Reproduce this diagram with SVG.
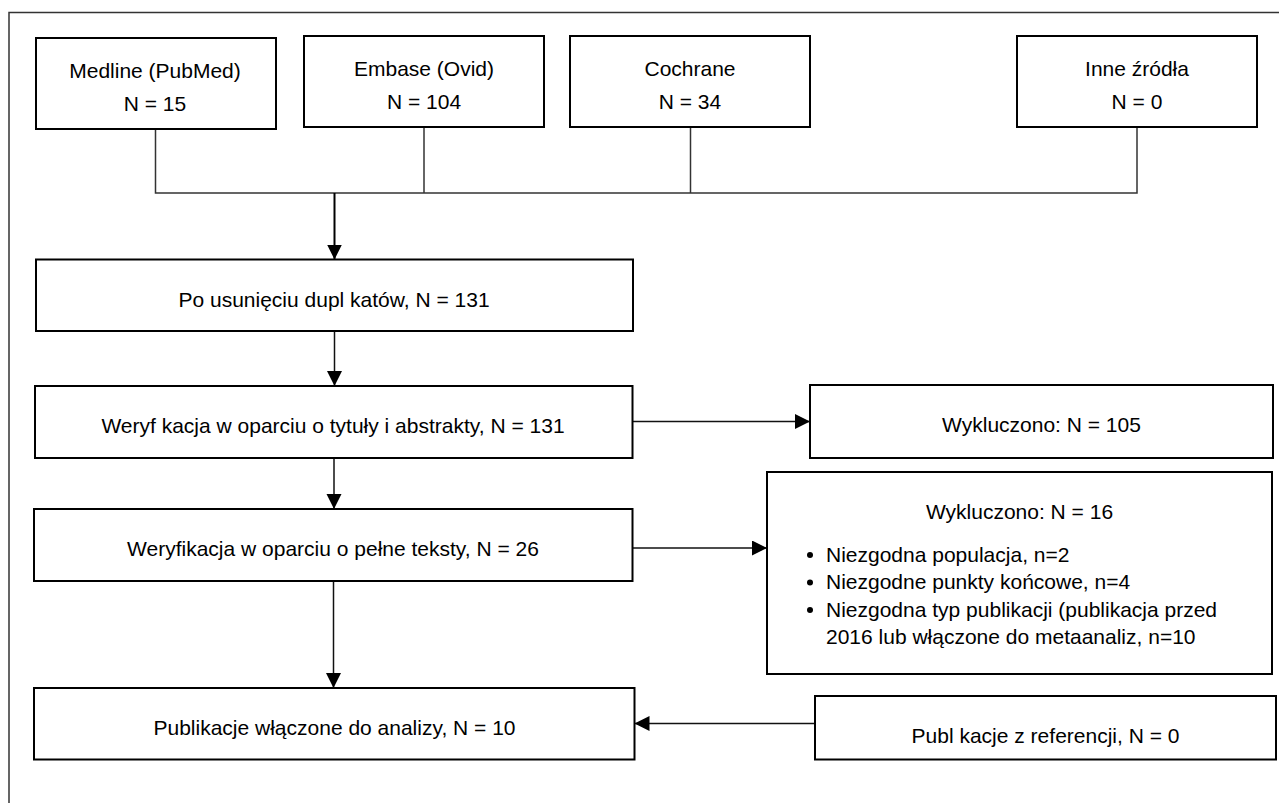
<svg xmlns="http://www.w3.org/2000/svg" width="1279" height="803" viewBox="0 0 1279 803">
<style>
.box{fill:#fff;stroke:#000;stroke-width:2}
.t{font-family:"Liberation Sans",Arial,sans-serif;font-size:21px;fill:#000}
.c{text-anchor:middle}
.ln{fill:none;stroke:#333;stroke-width:1.5}
.ar{fill:none;stroke:#111;stroke-width:1.5;marker-end:url(#ah)}
</style>
<defs>
<marker id="ah" markerUnits="userSpaceOnUse" markerWidth="16" markerHeight="16" refX="15" refY="7.5" orient="auto">
<path d="M0,0 L15,7.5 L0,15 Z" fill="#000"/>
</marker>
</defs>
<rect x="0" y="0" width="1279" height="803" fill="#fff"/>
<rect id="frame" x="9" y="12.5" width="1290" height="820" fill="none" stroke="#333" stroke-width="1.5"/>

<g id="connectors">
<polyline class="ln" points="155.5,129 155.5,193 1137,193 1137,127"/>
<line class="ln" x1="424" y1="127" x2="424" y2="193"/>
<line class="ln" x1="690.5" y1="127" x2="690.5" y2="193"/>
<line class="ar" x1="334.5" y1="193" x2="334.5" y2="259.5" style="stroke-width:2;stroke:#000"/>
<line class="ar" x1="334.5" y1="331" x2="334.5" y2="386"/>
<line class="ar" x1="334" y1="458" x2="334" y2="509"/>
<line class="ar" x1="333.5" y1="581" x2="333.5" y2="688"/>
<line class="ar" x1="632.5" y1="421.5" x2="810" y2="421.5"/>
<line class="ar" x1="632.5" y1="548" x2="767" y2="548"/>
<line class="ar" x1="815" y1="723.5" x2="634.5" y2="723.5"/>
</g>

<g id="medline">
<rect class="box" x="36" y="38" width="240" height="91"/>
<text class="t c" x="155" y="77.5">Medline (PubMed)</text>
<text class="t c" x="155" y="110.5">N = 15</text>
</g>
<g id="embase">
<rect class="box" x="304" y="36" width="240" height="91"/>
<text class="t c" x="424" y="76">Embase (Ovid)</text>
<text class="t c" x="424" y="109">N = 104</text>
</g>
<g id="cochrane">
<rect class="box" x="570" y="36" width="240" height="91"/>
<text class="t c" x="690" y="76">Cochrane</text>
<text class="t c" x="690" y="109">N = 34</text>
</g>
<g id="inne">
<rect class="box" x="1017" y="36" width="240" height="91"/>
<text class="t c" x="1137" y="76">Inne źródła</text>
<text class="t c" x="1137" y="109">N = 0</text>
</g>

<g id="duplikaty">
<rect class="box" x="36" y="259.5" width="597" height="71.5"/>
<text class="t c" x="334" y="306.5">Po usunięciu dupl katów, N = 131</text>
</g>
<g id="weryf-abstrakty">
<rect class="box" x="35" y="386" width="597.5" height="72"/>
<text class="t c" x="333" y="433">Weryf kacja w oparciu o tytuły i abstrakty, N = 131</text>
</g>
<g id="wykl-105">
<rect class="box" x="810" y="385" width="463" height="73"/>
<text class="t c" x="1041.5" y="432">Wykluczono: N = 105</text>
</g>
<g id="weryf-pelne">
<rect class="box" x="34" y="509" width="598.5" height="72"/>
<text class="t c" x="333" y="555.5">Weryfikacja w oparciu o pełne teksty, N = 26</text>
</g>
<g id="wykl-16">
<rect class="box" x="767" y="472" width="505" height="202"/>
<text class="t c" x="1019.5" y="519">Wykluczono: N = 16</text>
<circle cx="810" cy="555" r="3" fill="#000"/>
<circle cx="810" cy="582.5" r="3" fill="#000"/>
<circle cx="810" cy="610" r="3" fill="#000"/>
<text class="t" x="826" y="561.5">Niezgodna populacja, n=2</text>
<text class="t" x="826" y="589">Niezgodne punkty końcowe, n=4</text>
<text class="t" x="826" y="616.5">Niezgodna typ publikacji (publikacja przed</text>
<text class="t" x="826" y="644">2016 lub włączone do metaanaliz, n=10</text>
</g>
<g id="publikacje">
<rect class="box" x="34" y="688" width="600.5" height="71.5"/>
<text class="t c" x="334.5" y="734.5">Publikacje włączone do analizy, N = 10</text>
</g>
<g id="referencje">
<rect class="box" x="815" y="696" width="461" height="63.5"/>
<text class="t c" x="1045.5" y="742.5">Publ kacje z referencji, N = 0</text>
</g>
</svg>
